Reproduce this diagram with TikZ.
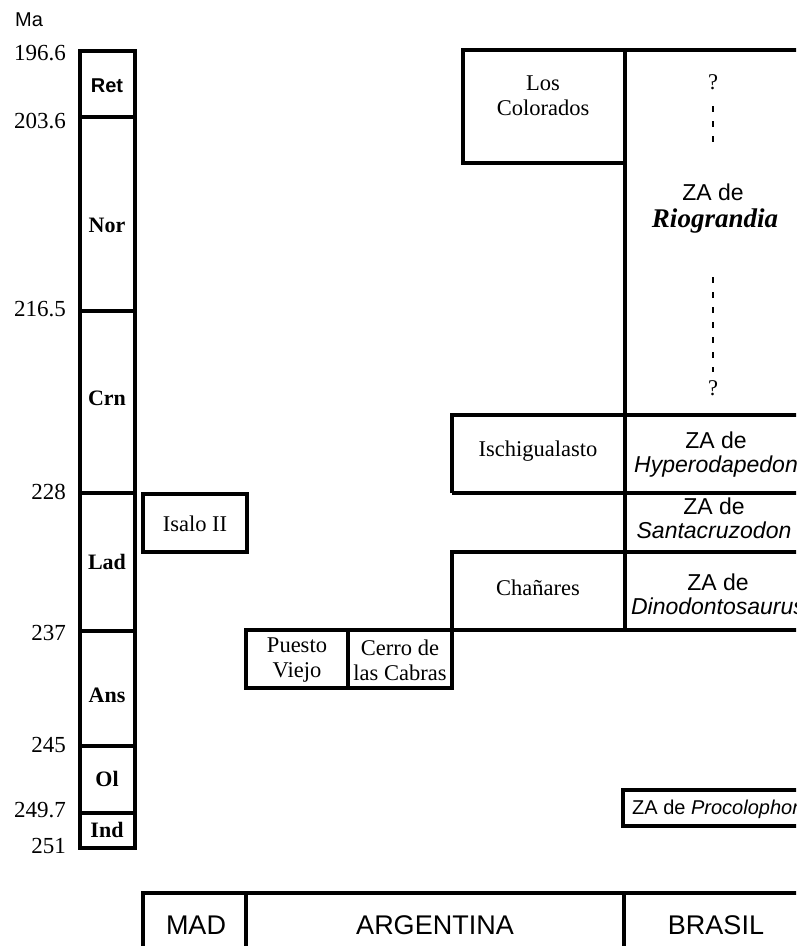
\documentclass[tikz,border=0pt]{standalone}
\usepackage{fontspec}
\setmainfont{Liberation Serif}
\setsansfont{Liberation Sans}

\tikzset{
  bar/.style={line width=3.4pt, line join=miter},
  num/.style={anchor=east, inner sep=0pt, font=\fontsize{23}{24}\selectfont},
  stage/.style={inner sep=0pt, font=\fontsize{22}{24}\selectfont\bfseries},
  fm/.style={inner sep=0pt, align=center, font=\fontsize{22.5}{25}\selectfont},
  za/.style={inner sep=0pt, align=center, font=\fontsize{23}{24}\selectfont\sffamily},
  region/.style={inner sep=0pt, font=\fontsize{27}{28}\selectfont\sffamily},
  gap/.style={line width=2.4pt, dash pattern=on 6pt off 9pt}
}

\begin{document}
\begin{tikzpicture}[x=1pt, y=-1pt]
  \useasboundingbox (0,0) rectangle (796,946);
  \clip (0,0) rectangle (796,946);

  % time scale
  \node[inner sep=0pt, font=\fontsize{20}{22}\selectfont\sffamily] (ma) at (29,20) {Ma};
  \draw[bar] (80,51) rectangle (135,848);
  \foreach \y in {117,311,493,631,746,813}
    \draw[bar] (80,\y) -- (135,\y);
  \foreach \y/\t/\n in {53/196.6/a, 121/203.6/b, 309/216.5/c, 492/228/d,
                        633/237/e, 745/245/f, 810/249.7/g, 846/251/h}
    \node[num] (ma-\n) at (66,\y) {\t};
  \node[stage, font=\fontsize{20}{22}\selectfont\sffamily\bfseries] (st-Ret) at (107,86) {Ret};
  \foreach \y/\t in {225/Nor, 398/Crn, 562/Lad, 695/Ans, 779/Ol, 830/Ind}
    \node[stage] (st-\t) at (107,\y) {\t};

  % Madagascar
  \draw[bar] (143,494) rectangle (247,552);
  \node[fm] (isalo) at (195,524) {Isalo II};

  % Argentina
  \draw[bar] (246,630) rectangle (452,688);
  \draw[bar] (348,630) -- (348,688);
  \node[fm] (puesto) at (297,660) {Puesto\\Viejo};
  \node[fm] (cerro) at (400,660) {Cerro de\\las Cabras};
  \draw[bar] (246,630) -- (810,630);
  \draw[bar] (452,630) -- (452,552) -- (810,552);
  \node[fm] (chanares) at (538,588) {Chañares};
  \draw[bar] (452,493) -- (452,415) -- (810,415);
  \draw[bar] (452,493) -- (810,493);
  \node[fm] (ischi) at (538,451) {Ischigualasto};
  \draw[bar] (463,50) rectangle (625,163);
  \node[fm] (colorados) at (543,96) {Los\\Colorados};

  % Brasil
  \draw[bar] (463,50) -- (810,50);
  \draw[bar] (625,50) -- (625,630);
  \node[fm] (q1) at (713,82) {?};
  \draw[gap] (713,106) -- (713,146);
  \node[za] (zaRio) at (713,192) {ZA de};
  \node[inner sep=0pt, font=\fontsize{27}{28}\selectfont\bfseries\itshape] (rio) at (715,221) {Riograndia};
  \draw[gap] (713,277) -- (713,372);
  \node[fm] (q2) at (713,388) {?};
  \node[za] (hyper) at (716,455) {ZA de\\\itshape Hyperodapedon};
  \node[za] (santa) at (714,518) {ZA de\\\itshape Santacruzodon};
  \node[za] (dino) at (718,594) {ZA de\\\itshape Dinodontosaurus};
  \draw[bar] (623,790) rectangle (810,826);
  \node[za, anchor=west, font=\fontsize{20}{22}\selectfont\sffamily] (proco) at (632,809) {ZA de \textit{Procolophon}};

  % regions
  \draw[bar] (143,960) -- (143,893) -- (810,893);
  \draw[bar] (246,893) -- (246,960);
  \draw[bar] (624,893) -- (624,960);
  \node[region] (mad) at (196,925) {MAD};
  \node[region] (arg) at (435,925) {ARGENTINA};
  \node[region] (bra) at (716,925) {BRASIL};
\end{tikzpicture}
\end{document}
